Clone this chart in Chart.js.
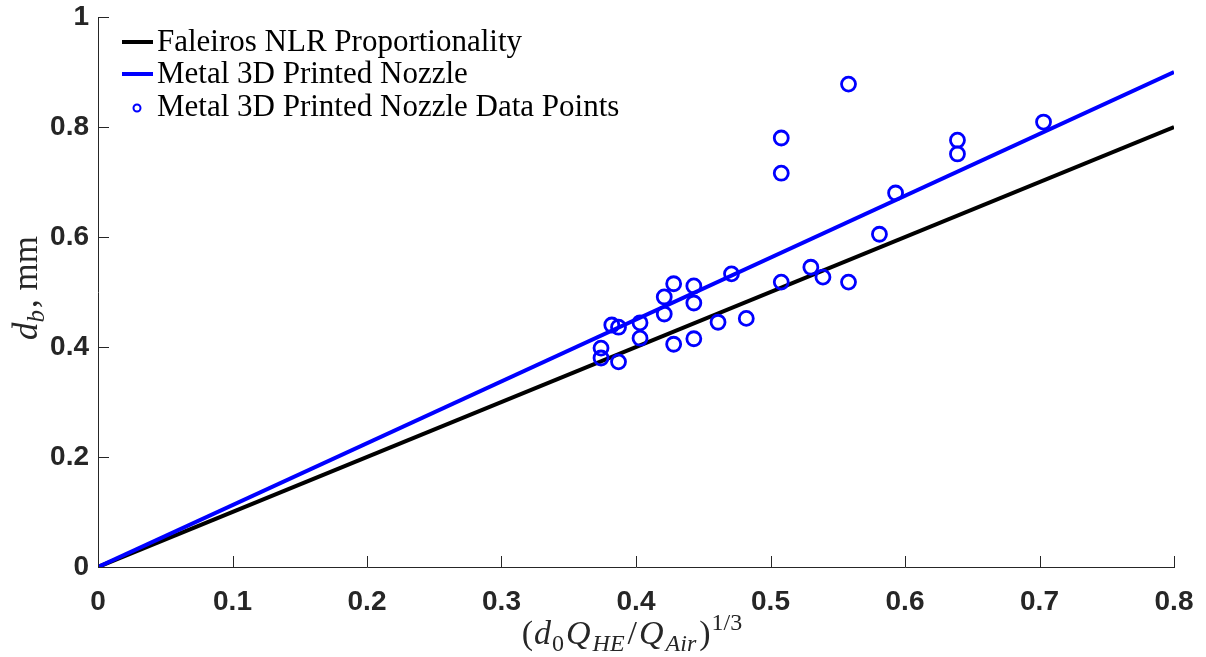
<!DOCTYPE html>
<html>
<head>
<meta charset="utf-8">
<script src="https://cdn.jsdelivr.net/npm/chart.js@4.4.1/dist/chart.umd.min.js"></script>
<style>
    html, body { margin: 0; padding: 0; background: #fff; }
    #wrap { width: 1206px; height: 657px; position: relative; }
</style>
</head>
<body>
<div id="wrap"><canvas id="bubbleChart"></canvas></div>
<script>
// reference lines, end points
const lineX = [0, 0.8];
const faleirosY = [0, 0.8];
const nozzleFitY = [0, 0.9];

// measured points
const pointX = [0.374, 0.374, 0.382, 0.387, 0.387, 0.403, 0.403, 0.421, 0.421, 0.428,
    0.428, 0.443, 0.443, 0.443, 0.461, 0.471, 0.482, 0.508, 0.508, 0.508,
    0.530, 0.539, 0.558, 0.558, 0.581, 0.593, 0.639, 0.639, 0.703];
const pointY = [0.398, 0.380, 0.440, 0.436, 0.373, 0.444, 0.416, 0.491, 0.460, 0.515,
    0.405, 0.511, 0.480, 0.415, 0.445, 0.533, 0.452, 0.780, 0.716, 0.518,
    0.545, 0.527, 0.878, 0.518, 0.605, 0.680, 0.776, 0.751, 0.809];

const xTicks = [0, 0.1, 0.2, 0.3, 0.4, 0.5, 0.6, 0.7, 0.8];
const yTicks = [0, 0.2, 0.4, 0.6, 0.8, 1];

const labels = [
    "Faleiros NLR Proportionality",
    "Metal 3D Printed Nozzle",
    "Metal 3D Printed Nozzle Data Points"
];

const AXIS_COLOR = "#262626";
const SERIF = "'Liberation Serif', 'DejaVu Serif', serif";

function toPoints(xs, ys) {
    return xs.map((x, i) => ({ x: x, y: ys[i] }));
}

// MATLAB style ticks pointing into the plot
const innerTicks = {
    id: "innerTicks",
    afterDraw(chart) {
        const ctx = chart.ctx;
        const area = chart.chartArea;
        const xs = chart.scales.x;
        const ys = chart.scales.y;
        ctx.save();
        ctx.strokeStyle = AXIS_COLOR;
        ctx.lineWidth = 1;
        ctx.beginPath();
        xTicks.forEach(v => {
            const px = Math.round(xs.getPixelForValue(v)) + 0.5;
            ctx.moveTo(px, area.bottom);
            ctx.lineTo(px, area.bottom - 11);
        });
        yTicks.forEach(v => {
            const py = Math.round(ys.getPixelForValue(v)) + 0.5;
            ctx.moveTo(area.left, py);
            ctx.lineTo(area.left + 11, py);
        });
        ctx.stroke();
        ctx.restore();
    }
};

function drawMath(ctx, parts, cx, cy, size) {
    const subSize = Math.round(size * 0.72);
    const widths = parts.map(p => {
        ctx.font = (p.it ? "italic " : "") + (p.sub || p.sup ? subSize : size) + "px " + SERIF;
        return ctx.measureText(p.t).width + (p.gap || 0);
    });
    const total = widths.reduce((a, b) => a + b, 0);
    let x = cx - total / 2;
    ctx.textBaseline = "alphabetic";
    ctx.textAlign = "left";
    parts.forEach((p, i) => {
        ctx.font = (p.it ? "italic " : "") + (p.sub || p.sup ? subSize : size) + "px " + SERIF;
        let y = cy;
        if (p.sub) y += size * 0.2;
        if (p.sup) y -= size * 0.42;
        ctx.fillText(p.t, x, y);
        x += widths[i];
    });
}

const axisTitles = {
    id: "axisTitles",
    afterDraw(chart) {
        const ctx = chart.ctx;
        ctx.save();
        ctx.fillStyle = AXIS_COLOR;
        drawMath(ctx, [
            { t: "(", gap: 1 }, { t: "d", it: true, gap: 1 }, { t: "0", sub: true, gap: 2 },
            { t: "Q", it: true, gap: 2 }, { t: "HE", it: true, sub: true, gap: 3 },
            { t: "/", gap: 2 }, { t: "Q", it: true, gap: 2 }, { t: "Air", it: true, sub: true, gap: 3 },
            { t: ")", gap: 1 }, { t: "1/3", sup: true }
        ], 632, 644, 34);

        ctx.translate(37, 288);
        ctx.rotate(-Math.PI / 2);
        drawMath(ctx, [
            { t: "d", it: true }, { t: "b", it: true, sub: true, gap: 2 }, { t: ", mm" }
        ], 0, 0, 35);
        ctx.restore();
    }
};

const plotLegend = {
    id: "plotLegend",
    afterDraw(chart) {
        const ctx = chart.ctx;
        const rows = [42, 74, 107];
        ctx.save();
        ctx.font = "31px " + SERIF;
        ctx.textBaseline = "middle";
        ctx.textAlign = "left";

        ctx.lineWidth = 4;
        ctx.strokeStyle = "#000000";
        ctx.beginPath();
        ctx.moveTo(122, rows[0]);
        ctx.lineTo(153, rows[0]);
        ctx.stroke();

        ctx.strokeStyle = "#0000ff";
        ctx.beginPath();
        ctx.moveTo(122, rows[1]);
        ctx.lineTo(153, rows[1]);
        ctx.stroke();

        ctx.lineWidth = 2;
        ctx.beginPath();
        ctx.arc(137, rows[2] + 1, 3.5, 0, Math.PI * 2);
        ctx.stroke();

        ctx.fillStyle = "#000000";
        labels.forEach((label, i) => {
            ctx.fillText(label, 157, rows[i] + 1);
        });
        ctx.restore();
    }
};

const chart = new Chart(document.getElementById("bubbleChart"), {
    type: "scatter",
    data: {
        datasets: [
            {
                label: labels[2],
                data: toPoints(pointX, pointY),
                showLine: false,
                pointStyle: "circle",
                pointRadius: 7,
                pointBorderWidth: 2.8,
                pointBorderColor: "#0000ff",
                pointBackgroundColor: "rgba(0,0,0,0)",
                order: 0
            },
            {
                label: labels[1],
                data: toPoints(lineX, nozzleFitY),
                showLine: true,
                borderColor: "#0000ff",
                borderWidth: 4,
                pointRadius: 0,
                order: 1
            },
            {
                label: labels[0],
                data: toPoints(lineX, faleirosY),
                showLine: true,
                borderColor: "#000000",
                borderWidth: 4,
                pointRadius: 0,
                order: 2
            }
        ]
    },
    options: {
        responsive: true,
        maintainAspectRatio: false,
        animation: false,
        layout: {
            padding: { top: 17, right: 32, left: 0, bottom: 0 }
        },
        plugins: {
            legend: { display: false },
            tooltip: { enabled: false }
        },
        scales: {
            x: {
                type: "linear",
                min: 0,
                max: 0.8,
                afterFit: scale => {
                    scale.height = 90;
                    scale.paddingLeft = 0;
                    scale.paddingRight = 0;
                },
                afterBuildTicks: scale => { scale.ticks = xTicks.map(v => ({ value: v })); },
                grid: { display: false, drawTicks: false },
                border: { display: true, color: AXIS_COLOR, width: 1 },
                ticks: {
                    padding: 18,
                    color: AXIS_COLOR,
                    font: { family: "'Liberation Sans', Arial, sans-serif", size: 28, weight: "bold" },
                    callback: v => String(Math.round(v * 10) / 10)
                }
            },
            y: {
                type: "linear",
                min: 0,
                max: 1,
                afterFit: scale => {
                    scale.width = 98;
                    scale.paddingTop = 0;
                    scale.paddingBottom = 0;
                },
                afterBuildTicks: scale => { scale.ticks = yTicks.map(v => ({ value: v })); },
                grid: { display: false, drawTicks: false },
                border: { display: true, color: AXIS_COLOR, width: 1 },
                ticks: {
                    padding: 9,
                    color: AXIS_COLOR,
                    font: { family: "'Liberation Sans', Arial, sans-serif", size: 28, weight: "bold" },
                    callback: v => String(Math.round(v * 10) / 10)
                }
            }
        }
    },
    plugins: [innerTicks, axisTitles, plotLegend]
});
</script>
</body>
</html>
